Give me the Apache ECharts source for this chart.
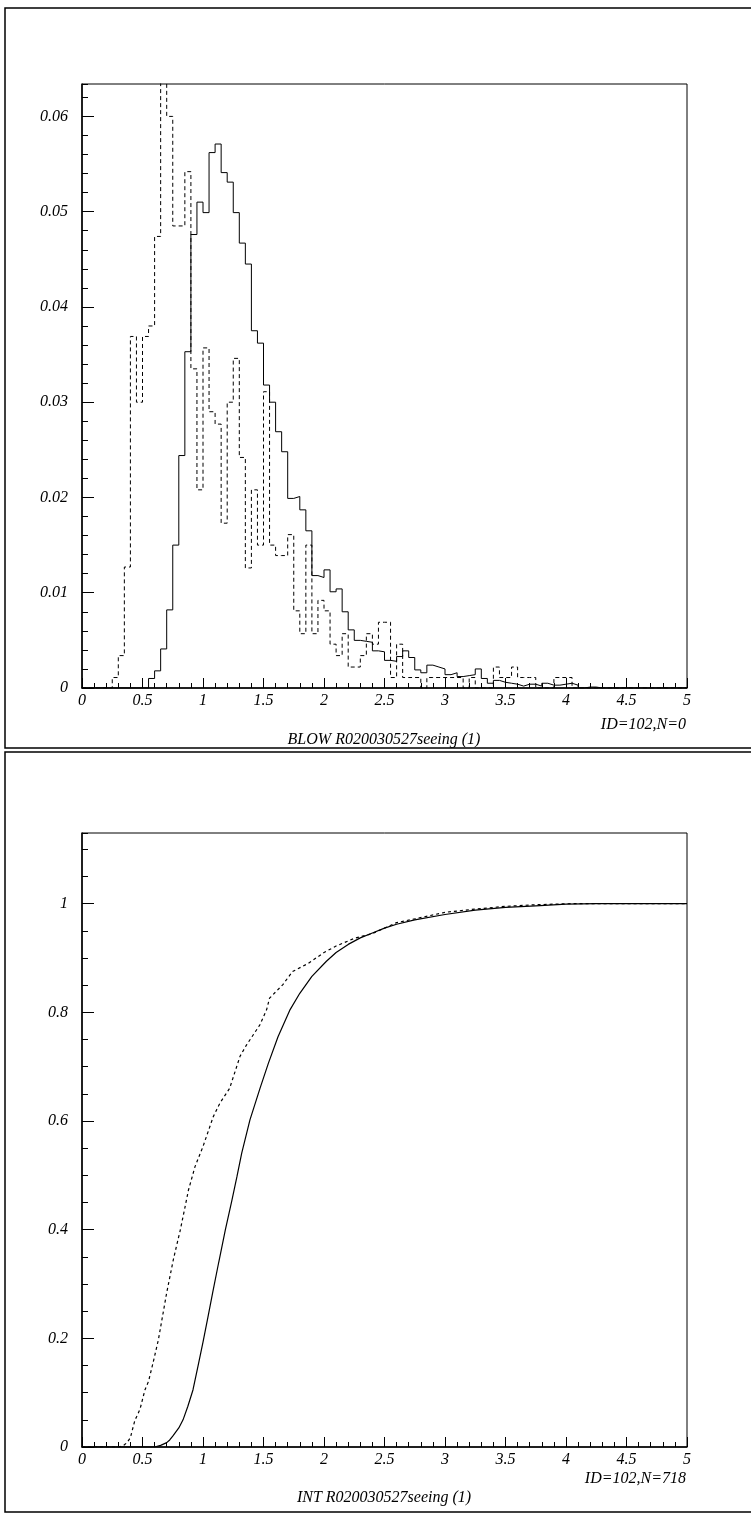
<!DOCTYPE html>
<html>
<head>
<meta charset="utf-8">
<title>R020030527 seeing</title>
<script src="https://cdn.jsdelivr.net/npm/echarts@6/dist/echarts.min.js"></script>
<style>
  html, body { margin: 0; padding: 0; background: #fff; }
  #chart { width: 751px; height: 1520px; }
</style>
</head>
<body>
<div id="chart"></div>
<script>
// Seeing histograms (bin width 0.05, 0..5), values per bin starting at x = 0
const BIN_WIDTH = 0.05;
const blowSolid = [
  0, 0, 0, 0, 0, 0, 0, 0, 0, 0,
  0, 0.0010, 0.0018, 0.0041, 0.0082, 0.0150, 0.0244, 0.0353, 0.0476, 0.0510,
  0.0499, 0.0562, 0.0571, 0.0541, 0.0531, 0.0499, 0.0467, 0.0445, 0.0375, 0.0362,
  0.0318, 0.0300, 0.0269, 0.0248, 0.0199, 0.0201, 0.0187, 0.0165, 0.0118, 0.0116,
  0.0124, 0.0101, 0.0104, 0.0080, 0.0061, 0.0050, 0.0049, 0.0048, 0.0039, 0.0038,
  0.0029, 0.0028, 0.0033, 0.0039, 0.0032, 0.0019, 0.0016, 0.0024, 0.0022, 0.0020,
  0.0014, 0.0016, 0.0012, 0.0013, 0.0014, 0.0020, 0.0010, 0.0005, 0.0008, 0.0006,
  0.0005, 0.0004, 0.0002, 0.0004, 0.0004, 0.0002, 0.0005, 0.0003, 0.0003, 0.0004,
  0.0005, 0.0003, 0, 0.0001, 0.0001, 0, 0, 0, 0, 0,
  0, 0, 0, 0, 0, 0, 0, 0, 0, 0
];
const blowDashed = [
  0, 0, 0, 0, 0, 0.0011, 0.0034, 0.0127, 0.0369, 0.0300,
  0.0369, 0.0380, 0.0474, 0.0740, 0.0600, 0.0485, 0.0485, 0.0542, 0.0335, 0.0208,
  0.0357, 0.0290, 0.0277, 0.0173, 0.0300, 0.0346, 0.0242, 0.0126, 0.0208, 0.0150,
  0.0311, 0.0150, 0.0139, 0.0139, 0.0161, 0.0081, 0.0057, 0.0150, 0.0057, 0.0092,
  0.0081, 0.0046, 0.0034, 0.0057, 0.0022, 0.0022, 0.0034, 0.0057, 0.0046, 0.0069,
  0.0069, 0.0011, 0.0046, 0.0011, 0.0011, 0.0011, 0, 0.0011, 0.0011, 0.0011,
  0.0011, 0.0011, 0.0011, 0, 0.0011, 0, 0, 0, 0.0022, 0.0011,
  0.0011, 0.0022, 0.0011, 0.0011, 0.0011, 0, 0, 0, 0.0011, 0.0011,
  0.0011, 0, 0, 0, 0, 0, 0, 0, 0, 0,
  0, 0, 0, 0, 0, 0, 0, 0, 0, 0
];

// Integrated distributions: [seeing, fraction]
const intSolid = [
  [0, 0], [0.6, 0], [0.65, 0.003], [0.7, 0.008], [0.725, 0.013], [0.75, 0.02],
  [0.8, 0.035], [0.835, 0.05], [0.875, 0.075], [0.917, 0.105], [0.96, 0.15],
  [1.0, 0.193], [1.04, 0.238], [1.08, 0.284], [1.13, 0.34], [1.185, 0.40],
  [1.237, 0.452], [1.28, 0.497], [1.32, 0.541], [1.388, 0.602], [1.471, 0.66],
  [1.54, 0.706], [1.62, 0.755], [1.72, 0.805], [1.80, 0.835], [1.9, 0.866],
  [2.02, 0.894], [2.1, 0.91], [2.2, 0.925], [2.3, 0.937], [2.4, 0.946],
  [2.5, 0.955], [2.6, 0.962], [2.75, 0.97], [3.0, 0.98], [3.25, 0.988],
  [3.5, 0.993], [3.75, 0.996], [4.0, 0.999], [4.25, 1.0], [5.0, 1.0]
];
const intDashed = [
  [0, 0], [0.3, 0], [0.317, 0.001], [0.35, 0.004], [0.372, 0.008], [0.4, 0.017],
  [0.41, 0.026], [0.438, 0.05], [0.45, 0.055], [0.48, 0.07], [0.52, 0.105],
  [0.55, 0.121], [0.59, 0.1575], [0.631, 0.197], [0.7, 0.284], [0.755, 0.345],
  [0.797, 0.385], [0.81, 0.397], [0.85, 0.44], [0.88, 0.473], [0.934, 0.516],
  [1.0, 0.553], [1.085, 0.608], [1.14, 0.633], [1.22, 0.66], [1.306, 0.719],
  [1.36, 0.74], [1.47, 0.777], [1.526, 0.805], [1.55, 0.826], [1.66, 0.851],
  [1.74, 0.875], [1.87, 0.89], [2.0, 0.91], [2.1, 0.922], [2.25, 0.936],
  [2.4, 0.945], [2.5, 0.955], [2.6, 0.965], [2.75, 0.972], [3.0, 0.984],
  [3.25, 0.99], [3.5, 0.995], [3.75, 0.998], [4.05, 1.0], [5.0, 1.0]
];

const xTicks = { min: 0, max: 5, major: 0.5, minorSplit: 5 };
const topY = { min: 0, max: 0.0634, major: 0.01, minor: 0.002 };
const botY = { min: 0, max: 1.13, major: 0.2, minor: 0.05 };

const FONT = 'Liberation Serif';
const FONT_SIZE = 16;

// histogram as step line: each point is [left bin edge, content]
function toSteps(values) {
  const pts = values.map((v, i) => [+(i * BIN_WIDTH).toFixed(2), v]);
  pts.push([+(values.length * BIN_WIDTH).toFixed(2), values[values.length - 1]]);
  return pts;
}

const labelStyle = { fontFamily: FONT, fontStyle: 'italic', fontSize: FONT_SIZE, color: '#000' };

function xAxes(gridIndex) {
  return [{
    type: 'value', gridIndex, min: xTicks.min, max: xTicks.max, interval: xTicks.major,
    axisLine: { show: true, onZero: false, lineStyle: { color: '#000', width: 1.5 } },
    axisTick: { show: true, inside: true, length: 10, lineStyle: { color: '#000', width: 1 } },
    minorTick: { show: true, splitNumber: xTicks.minorSplit, length: 5, lineStyle: { color: '#000', width: 1 } },
    axisLabel: Object.assign({ margin: 5 }, labelStyle),
    splitLine: { show: false }
  }];
}

function yAxes(gridIndex, cfg) {
  return [{
    type: 'value', gridIndex, min: cfg.min, max: cfg.max, interval: cfg.major,
    axisLine: { show: true, onZero: false, lineStyle: { color: '#000', width: 1.5 } },
    axisTick: { show: true, inside: true, length: 12, lineStyle: { color: '#000', width: 1 } },
    axisLabel: Object.assign({ margin: 14, showMaxLabel: false }, labelStyle),
    splitLine: { show: false }
  }, {
    // secondary ticks
    type: 'value', gridIndex, min: cfg.min, max: cfg.max, interval: cfg.minor, position: 'left',
    axisLine: { show: false },
    axisTick: { show: true, inside: true, length: 6, lineStyle: { color: '#000', width: 1 } },
    axisLabel: { show: false },
    splitLine: { show: false }
  }];
}

function caption(text, x, y, align) {
  return {
    type: 'text', x, y,
    style: { text, fontFamily: FONT, fontStyle: 'italic', fontSize: FONT_SIZE, fill: '#000', textAlign: align, textVerticalAlign: 'middle' }
  };
}

const chart = echarts.init(document.getElementById('chart'), null, { renderer: 'canvas' });

const option = {
  animation: false,
  backgroundColor: '#fff',
  grid: [
    { left: 82, top: 84, width: 605, height: 604, show: true, borderColor: '#000', borderWidth: 1, backgroundColor: 'transparent' },
    { left: 82, top: 833, width: 605, height: 614, show: true, borderColor: '#000', borderWidth: 1, backgroundColor: 'transparent' }
  ],
  xAxis: [].concat(xAxes(0), xAxes(1)),
  yAxis: [].concat(yAxes(0, topY), yAxes(1, botY)),
  series: [
    {
      type: 'line', xAxisIndex: 0, yAxisIndex: 0, step: 'end', symbol: 'none',
      data: toSteps(blowSolid), lineStyle: { color: '#000', width: 1 }, clip: true
    },
    {
      type: 'line', xAxisIndex: 0, yAxisIndex: 0, step: 'end', symbol: 'none',
      data: toSteps(blowDashed), lineStyle: { color: '#000', width: 1, type: [4, 3] }, clip: true
    },
    {
      type: 'line', xAxisIndex: 1, yAxisIndex: 2, symbol: 'none',
      data: intSolid, lineStyle: { color: '#000', width: 1.2 }, clip: true
    },
    {
      type: 'line', xAxisIndex: 1, yAxisIndex: 2, symbol: 'none',
      data: intDashed, lineStyle: { color: '#000', width: 1.2, type: [3, 3] }, clip: true
    }
  ],
  graphic: [
    { type: 'rect', shape: { x: 5, y: 8, width: 760, height: 740 }, style: { fill: 'none', stroke: '#000', lineWidth: 1.5 }, silent: true },
    { type: 'rect', shape: { x: 5, y: 752, width: 760, height: 760 }, style: { fill: 'none', stroke: '#000', lineWidth: 1.5 }, silent: true },
    caption('ID=102,N=0', 686, 725, 'right'),
    caption('BLOW R020030527seeing (1)', 384, 740, 'center'),
    caption('ID=102,N=718', 686, 1479, 'right'),
    caption('INT R020030527seeing (1)', 384, 1498, 'center')
  ]
};

chart.setOption(option);
</script>
</body>
</html>
